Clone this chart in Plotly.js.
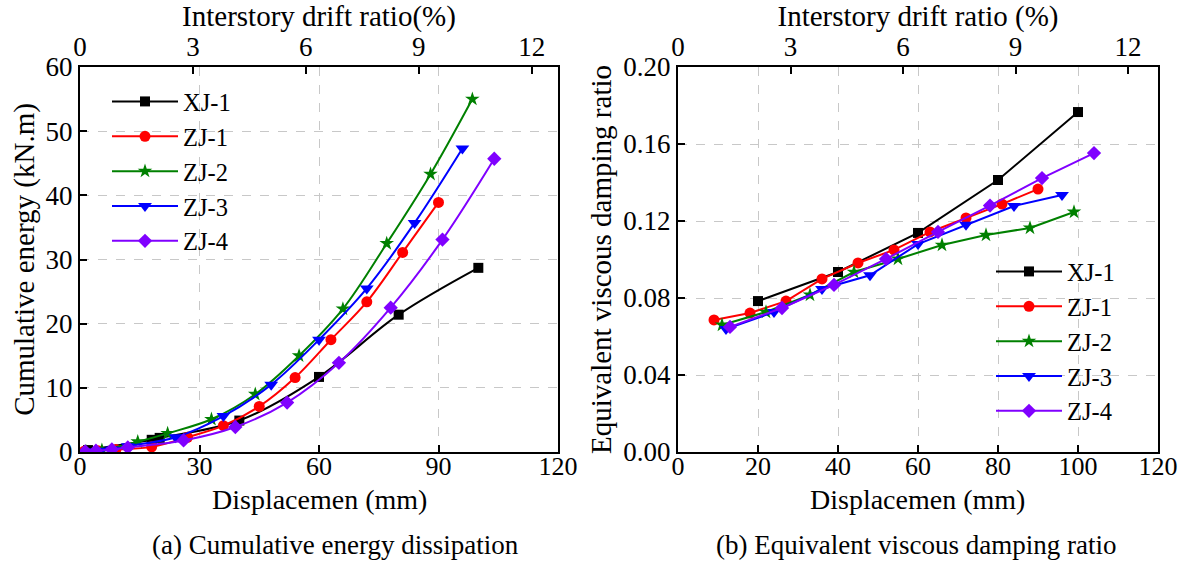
<!DOCTYPE html>
<html>
<head>
<meta charset="utf-8">
<script src="https://cdn.plot.ly/plotly-3.0.1.min.js"></script>
<style>html,body{margin:0;padding:0;background:#fff;}#chart{width:1180px;height:562px;}</style>
</head>
<body>
<div id="chart"></div>
<script>
// ---- Data: (a) cumulative energy dissipation ----
const seriesNames = ["XJ-1", "ZJ-1", "ZJ-2", "ZJ-3", "ZJ-4"];

const energyDispXJ1 = [2, 18, 20, 40, 60, 80, 100];
const energyXJ1     = [0.3, 1.9, 2.2, 4.9, 11.7, 21.4, 28.7];
const energyDispZJ1 = [1, 4.5, 9, 18, 27, 36, 45, 54, 63, 72, 81, 90];
const energyZJ1     = [0.1, 0.2, 0.4, 0.8, 2.3, 4.1, 7.1, 11.6, 17.5, 23.4, 31.1, 38.9];
const energyDispZJ2 = [1.5, 5.5, 14.5, 22, 33, 44, 55, 66, 77, 88, 98.5];
const energyZJ2     = [0.1, 0.3, 1.6, 2.9, 5.1, 9.0, 15.0, 22.3, 32.5, 43.3, 55.0];
const energyDispZJ3 = [2, 5, 8, 12, 24, 36, 48, 60, 72, 84, 96];
const energyZJ3     = [0.1, 0.2, 0.4, 0.9, 2.3, 5.6, 10.5, 17.5, 25.5, 35.7, 47.3];
const energyDispZJ4 = [1.3, 4, 8, 12, 26, 39, 52, 65, 78, 91, 104];
const energyZJ4     = [0.1, 0.2, 0.4, 0.7, 1.8, 3.9, 7.7, 13.9, 22.5, 33.1, 45.7];

// ---- Data: (b) equivalent viscous damping ratio ----
const dampDispXJ1 = [20, 40, 60, 80, 100];
const dampXJ1     = [0.0784, 0.0935, 0.1138, 0.1413, 0.1766];
const dampDispZJ1 = [9, 18, 27, 36, 45, 54, 63, 72, 81, 90];
const dampZJ1     = [0.0686, 0.0722, 0.0784, 0.0899, 0.0982, 0.105, 0.1143, 0.1216, 0.1288, 0.1366];
const dampDispZJ2 = [11, 22, 33, 44, 55, 66, 77, 88, 99];
const dampZJ2     = [0.066, 0.0727, 0.0816, 0.0935, 0.1003, 0.1075, 0.1127, 0.1164, 0.1247];
const dampDispZJ3 = [12, 24, 36, 48, 60, 72, 84, 96];
const dampZJ3     = [0.0639, 0.0727, 0.0847, 0.0918, 0.108, 0.118, 0.1278, 0.1335];
const dampDispZJ4 = [13, 26, 39, 52, 65, 78, 91, 104];
const dampZJ4     = [0.065, 0.0748, 0.0868, 0.1003, 0.1143, 0.128, 0.1423, 0.1553];

// tick labels
const energyTicks = [0, 10, 20, 30, 40, 50, 60];
const dispTicksA = [0, 30, 60, 90, 120];
const dispTicksB = [0, 20, 40, 60, 80, 100, 120];
const driftTicks = [0, 3, 6, 9, 12];
const dampTicks = [0.00, 0.04, 0.08, 0.12, 0.16, 0.20];

const colors = ["#000000", "#ff0000", "#008000", "#0000ff", "#8000ff"];
const symbols = ["square", "circle", "star", "triangle-down", "diamond"];
const msizes = [10, 11, 11, 12, 11];

const energyX = [energyDispXJ1, energyDispZJ1, energyDispZJ2, energyDispZJ3, energyDispZJ4];
const energyY = [energyXJ1, energyZJ1, energyZJ2, energyZJ3, energyZJ4];
const dampX = [dampDispXJ1, dampDispZJ1, dampDispZJ2, dampDispZJ3, dampDispZJ4];
const dampY = [dampXJ1, dampZJ1, dampZJ2, dampZJ3, dampZJ4];

const FONT = "Liberation Serif";
const traces = [];
for (let i = 0; i < 5; i++) {
  traces.push({
    x: energyX[i], y: energyY[i], name: seriesNames[i], type: "scatter", mode: "lines+markers",
    xaxis: "x", yaxis: "y", legend: "legend",
    line: {color: colors[i], width: 2, shape: "spline", smoothing: 1},
    marker: {symbol: symbols[i], size: msizes[i], color: colors[i]}
  });
}
for (let i = 0; i < 5; i++) {
  traces.push({
    x: dampX[i], y: dampY[i], name: seriesNames[i], type: "scatter", mode: "lines+markers",
    xaxis: "x3", yaxis: "y3", legend: "legend2",
    line: {color: colors[i], width: 2},
    marker: {symbol: symbols[i], size: msizes[i], color: colors[i]}
  });
}
// empty traces to attach the top (drift ratio) axes
traces.push({x: [], y: [], xaxis: "x2", yaxis: "y", showlegend: false, type: "scatter"});
traces.push({x: [], y: [], xaxis: "x4", yaxis: "y3", showlegend: false, type: "scatter"});

const W = 1180, H = 562;
const yDom = [1 - 452 / H, 1 - 67 / H];
const domA = [80 / W, 558 / W];
const domB = [678 / W, 1158 / W];
const gridCol = "#c8c8c8";
const tickFont = (s) => ({family: FONT, size: s || 27, color: "#000"});
const titleFont = (s) => ({family: FONT, size: s || 29, color: "#000"});

function baseAxis(extra) {
  return Object.assign({
    showline: true, linecolor: "#000", linewidth: 2,
    ticks: "inside", ticklen: 7, tickwidth: 2, tickcolor: "#000",
    tickfont: tickFont(), zeroline: false, automargin: false, tickmode: "array"
  }, extra);
}

const layout = {
  width: W, height: H,
  margin: {l: 0, r: 0, t: 0, b: 0},
  paper_bgcolor: "#fff", plot_bgcolor: "#fff",
  font: {family: FONT, color: "#000"},
  xaxis: baseAxis({domain: domA, anchor: "y", range: [0, 120], tickvals: dispTicksA, ticktext: dispTicksA.map(String),
    showgrid: true, gridcolor: gridCol, griddash: "dash", gridwidth: 1, ticklabelstandoff: -10, tickfont: tickFont(26)}),
  xaxis2: baseAxis({domain: domA, anchor: "y", overlaying: "x", side: "top", range: [0, 12.7], tickvals: driftTicks, ticktext: driftTicks.map(String),
    showgrid: false, ticklabelstandoff: -2, title: {text: "Interstory drift ratio(%)", font: titleFont(), standoff: 0}}),
  yaxis: baseAxis({domain: yDom, anchor: "x", range: [0, 60], tickvals: energyTicks, ticktext: energyTicks.map(String),
    showgrid: true, gridcolor: gridCol, griddash: "dash", gridwidth: 1, mirror: true,
    title: {text: "Cumulative energy (kN.m)", font: titleFont(), standoff: 2}}),
  xaxis3: baseAxis({domain: domB, anchor: "y3", range: [0, 120], tickvals: dispTicksB, ticktext: dispTicksB.map(String),
    showgrid: true, gridcolor: gridCol, griddash: "dash", gridwidth: 1, ticklabelstandoff: -10, tickfont: tickFont(26)}),
  xaxis4: baseAxis({domain: domB, anchor: "y3", overlaying: "x3", side: "top", range: [0, 12.8], tickvals: driftTicks, ticktext: driftTicks.map(String),
    showgrid: false, ticklabelstandoff: -2, title: {text: "Interstory drift ratio (%)", font: titleFont(), standoff: 0}}),
  yaxis3: baseAxis({domain: yDom, anchor: "x3", range: [0, 0.2], tickvals: dampTicks, ticktext: dampTicks.map(v => v.toFixed(2)),
    showgrid: true, gridcolor: gridCol, griddash: "dash", gridwidth: 1, mirror: true,
    title: {text: "Equivalent viscous damping ratio", font: titleFont(), standoff: 3}}),
  legend: {x: 107 / W, y: 1 - 79 / H, xanchor: "left", yanchor: "top", bgcolor: "rgba(0,0,0,0)",
    font: {family: FONT, size: 24.5, color: "#000"}, itemwidth: 66},
  legend2: {x: 991 / W, y: 1 - 249 / H, xanchor: "left", yanchor: "top", bgcolor: "rgba(0,0,0,0)",
    font: {family: FONT, size: 24.5, color: "#000"}, itemwidth: 66},
  annotations: [
    {text: "Displacemen (mm)", xref: "paper", yref: "paper", x: 319 / W, y: 1 - 499 / H,
      xanchor: "center", yanchor: "middle", showarrow: false, font: titleFont(28)},
    {text: "Displacemen (mm)", xref: "paper", yref: "paper", x: 918 / W, y: 1 - 499 / H,
      xanchor: "center", yanchor: "middle", showarrow: false, font: titleFont(28)},
    {text: "(a) Cumulative energy dissipation", xref: "paper", yref: "paper", x: 335 / W, y: 1 - 545 / H,
      xanchor: "center", yanchor: "middle", showarrow: false, font: {family: FONT, size: 27, color: "#000"}},
    {text: "(b) Equivalent viscous damping ratio", xref: "paper", yref: "paper", x: 916 / W, y: 1 - 545 / H,
      xanchor: "center", yanchor: "middle", showarrow: false, font: {family: FONT, size: 27, color: "#000"}}
  ],
  showlegend: true
};

Plotly.newPlot("chart", traces, layout, {displayModeBar: false, staticPlot: true});
</script>
</body>
</html>
